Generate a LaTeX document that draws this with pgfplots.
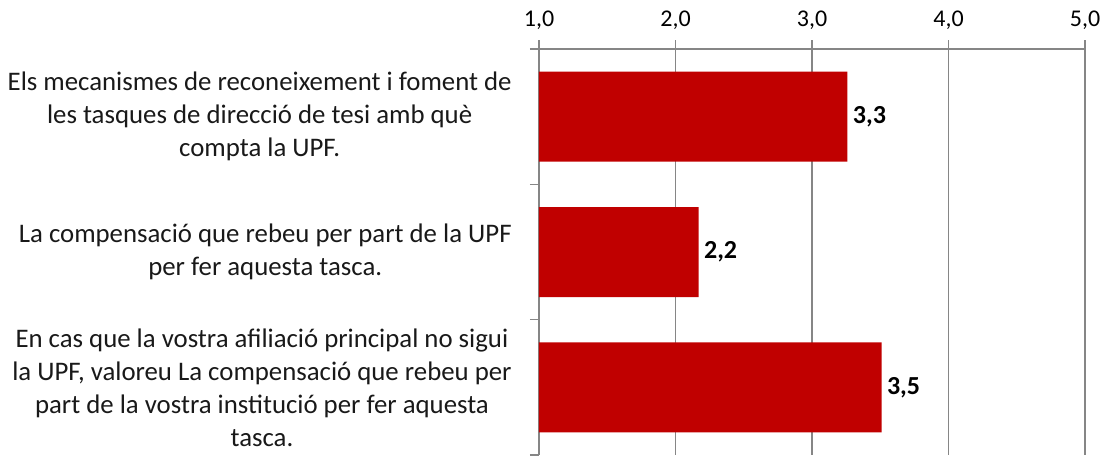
\documentclass[border=0pt]{standalone}
\usepackage{fontspec}
\setmainfont{Carlito}
\usepackage{pgfplots}
\pgfplotsset{compat=1.18}
\definecolor{barred}{HTML}{C00000}
\definecolor{gridgray}{HTML}{868686}
\begin{document}
\begin{tikzpicture}
\begin{axis}[
 at={(0,0)}, anchor=south west,
 scale only axis, width=273pt, height=203pt,
 xmin=1, xmax=5, ymin=0.5, ymax=3.5, y dir=reverse,
 axis x line*=top, axis y line*=left,
 axis line style={gridgray, line width=0.6pt},
 xtick={1,2,3,4,5},
 xmajorgrids, grid style={gridgray, line width=0.6pt},
 tick align=outside, major tick length=4.5pt,
 tick style={gridgray, line width=0.6pt},
 xticklabel style={font=\fontsize{12}{14}\selectfont, text=black, inner sep=0pt, anchor=base, yshift=7pt},
 ytick={0.5,1.5,2.5,3.5}, yticklabels={},
 extra y ticks={1,2,3},
 extra y tick labels={{Els mecanismes de reconeixement i foment de\\les tasques de direcció de tesi amb què\\compta la UPF.},{La compensació que rebeu per part de la UPF\\per fer aquesta tasca.},{En cas que la vostra afiliació principal no sigui\\la UPF, valoreu La compensació que rebeu per\\part de la vostra institució per fer aquesta\\tasca.}},
 extra y tick style={major tick length=0pt, grid=none, yticklabel style={align=center, font=\fontsize{13.4}{16.5}\selectfont, text=black!90, inner sep=0pt, xshift=-13.5pt}},
 xbar, bar width=45pt, bar shift=0pt,
 nodes near coords,
 nodes near coords style={font=\bfseries\fontsize{13}{15}\selectfont, text=black, inner sep=2.5pt},
 /pgf/number format/assume math mode=true,
 /pgf/number format/fixed,
 /pgf/number format/fixed zerofill,
 /pgf/number format/precision=1,
 /pgf/number format/use comma,
]
\addplot[fill=barred, draw=none] coordinates {(3.26,1) (2.17,2) (3.51,3)};
\end{axis}
\pgfresetboundingbox
\path[use as bounding box] (-269.5pt,-1pt) rectangle (284pt,227.5pt);
\end{tikzpicture}
\end{document}
